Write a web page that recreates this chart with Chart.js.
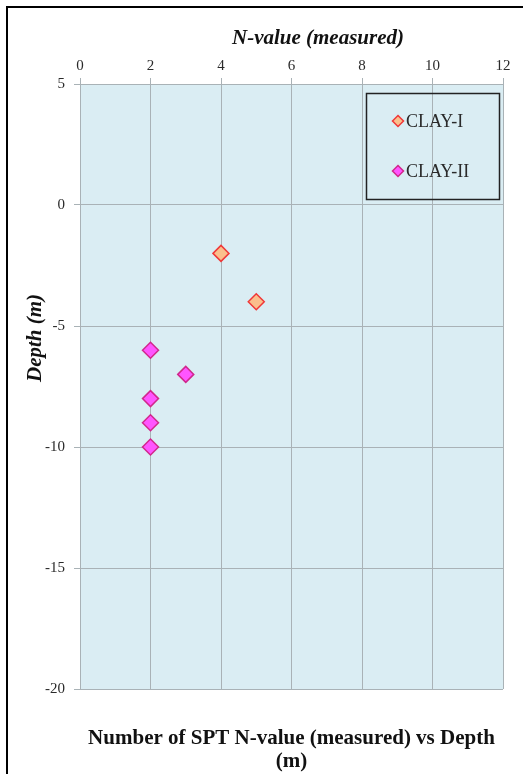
<!DOCTYPE html>
<html>
<head>
<meta charset="utf-8">
<script src="https://cdn.jsdelivr.net/npm/chart.js@4.4.1/dist/chart.umd.min.js"></script>
<style>
  html, body { margin: 0; padding: 0; background: #fff; }
  #wrap { position: relative; width: 523px; height: 774px; }
</style>
</head>
<body>
<div id="wrap"><canvas id="chart" width="523" height="774"></canvas></div>
<script>
// N-value (measured) vs depth
const clay1N = [4, 5]
const clay1Depth = [-2, -4]
const clay2N = [2, 3, 2, 2, 2]
const clay2Depth = [-6, -7, -8, -9, -10]
const xTicks = [0, 2, 4, 6, 8, 10, 12]
const yTicks = [5, 0, -5, -10, -15, -20]

const xTitle = 'N-value (measured)'
const yTitle = 'Depth (m)'
const mainTitle = ['Number of SPT N-value (measured) vs Depth', '(m)']

const serif = '"Liberation Serif", "Times New Roman", serif'

function toPoints(xs, ys) {
  return xs.map((x, i) => ({ x, y: ys[i] }))
}

// frame, plot background, titles and the boxed legend (drawn by hand, the
// built-in legend can't be put inside the plot the way the original is)
const framePlugin = {
  id: 'frame',
  beforeDraw(chart) {
    const { ctx, chartArea } = chart
    ctx.save()
    ctx.fillStyle = '#000'
    ctx.fillRect(6, 6, 530, 2)
    ctx.fillRect(6, 6, 2, 800)
    ctx.fillStyle = '#daedf3'
    ctx.fillRect(chartArea.left, chartArea.top, chartArea.right - chartArea.left, chartArea.bottom - chartArea.top)
    ctx.restore()
  },
  afterDraw(chart) {
    const { ctx, chartArea } = chart
    const cx = (chartArea.left + chartArea.right) / 2
    ctx.save()

    // axis titles
    ctx.fillStyle = '#111'
    ctx.textAlign = 'center'
    ctx.textBaseline = 'middle'
    ctx.font = `italic bold 21px ${serif}`
    ctx.fillText(xTitle, 318, 39)
    ctx.save()
    ctx.translate(36, 338)
    ctx.rotate(-Math.PI / 2)
    ctx.fillText(yTitle, 0, 0)
    ctx.restore()

    // chart title under the plot
    ctx.font = `bold 21px ${serif}`
    mainTitle.forEach((line, i) => ctx.fillText(line, cx, 739 + i * 23))

    // legend
    ctx.strokeStyle = '#222'
    ctx.lineWidth = 1.5
    ctx.strokeRect(366.5, 93.5, 133, 106)
    ctx.font = `18px ${serif}`
    ctx.textAlign = 'left'
    chart.data.datasets.forEach((ds, i) => {
      const y = 121 + i * 50
      ctx.fillStyle = ds.backgroundColor
      ctx.strokeStyle = ds.borderColor
      ctx.lineWidth = 1.5
      Chart.helpers.drawPoint(ctx, { pointStyle: 'rectRot', radius: 5.5, rotation: 0, borderWidth: 1.5 }, 398, y)
      ctx.fillStyle = '#2a2a2a'
      ctx.fillText(ds.label, 406, y + 1)
    })
    ctx.restore()
  },
}

new Chart(document.getElementById('chart'), {
  type: 'scatter',
  data: {
    datasets: [
      {
        label: 'CLAY-I',
        data: toPoints(clay1N, clay1Depth),
        pointStyle: 'rectRot',
        pointRadius: 8,
        pointHoverRadius: 8,
        backgroundColor: '#fbbf8c',
        borderColor: '#f03838',
        borderWidth: 1.5,
      },
      {
        label: 'CLAY-II',
        data: toPoints(clay2N, clay2Depth),
        pointStyle: 'rectRot',
        pointRadius: 8,
        pointHoverRadius: 8,
        backgroundColor: '#ff55ff',
        borderColor: '#d0288c',
        borderWidth: 1.5,
      },
    ],
  },
  options: {
    responsive: false,
    animation: false,
    layout: { padding: { left: 0, top: 0, right: 20, bottom: 85 } },
    scales: {
      x: {
        type: 'linear',
        position: 'top',
        min: 0,
        max: 12,
        afterBuildTicks(scale) { scale.ticks = xTicks.map((v) => ({ value: v })) },
        afterFit(scale) { scale.height = 84 },
        grid: { color: '#a9b2b6', lineWidth: 1, drawTicks: true, tickLength: 6 },
        border: { color: '#a9b2b6' },
        ticks: { color: '#2a2a2a', font: { family: serif, size: 15 }, padding: 3, maxRotation: 0 },
      },
      y: {
        type: 'linear',
        min: -20,
        max: 5,
        afterBuildTicks(scale) { scale.ticks = yTicks.map((v) => ({ value: v })) },
        afterFit(scale) { scale.width = 80 },
        grid: { color: '#a9b2b6', lineWidth: 1, drawTicks: true, tickLength: 6 },
        border: { color: '#a9b2b6' },
        ticks: { color: '#2a2a2a', font: { family: serif, size: 15 }, padding: 9 },
      },
    },
    plugins: {
      legend: { display: false },
      tooltip: { enabled: false },
    },
  },
  plugins: [framePlugin],
})
</script>
</body>
</html>
